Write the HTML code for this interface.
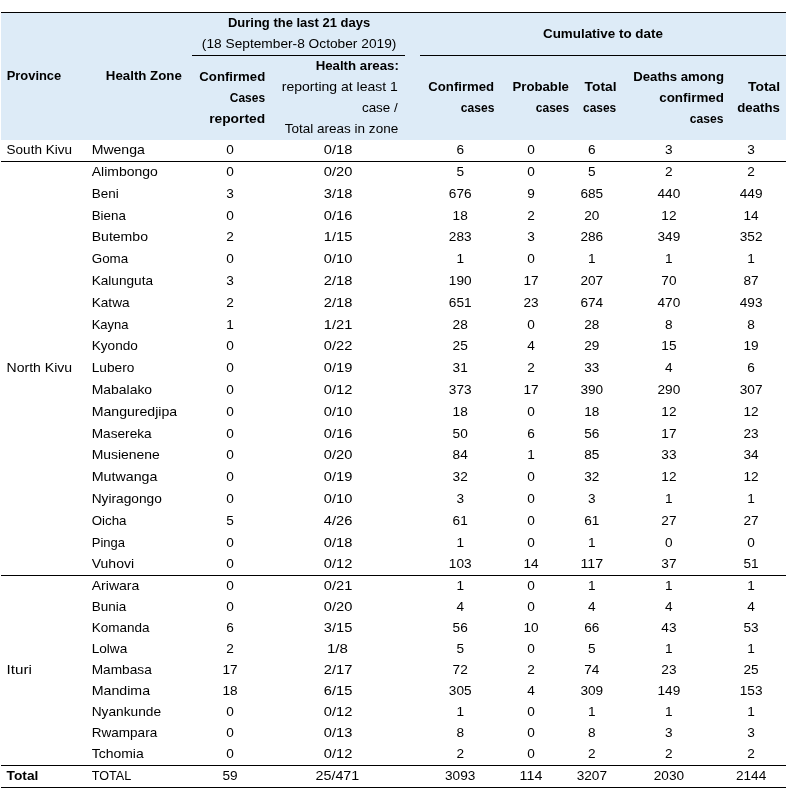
<!DOCTYPE html>
<html lang="en"><head><meta charset="utf-8"><title>Ebola cases by health zone</title>
<style>
html,body{margin:0;padding:0;background:#fff}
#t{position:relative;width:791px;height:793px;overflow:hidden;background:#fff;font-family:"Liberation Sans", sans-serif;font-size:13.0px;color:#000}
#txt{position:absolute;left:0;top:0;width:791px;height:793px;will-change:transform}
#t span{position:absolute;white-space:nowrap;line-height:20px;height:20px}
#t span.b{font-weight:bold}
#t span.l{transform-origin:0 50%}
#t span.r{transform-origin:100% 50%}
#t span.c{transform-origin:50% 50%}
.hd{position:absolute;left:1px;top:13px;width:785px;height:127px;background:#ddebf7}
.ln{position:absolute;height:1px;background:#000}
</style></head><body>
<div id="t" role="table" aria-label="Ebola virus disease cases by health zone">
<div class="hd"></div>
<div class="ln" style="left:1px;top:12px;width:785px"></div>
<div class="ln" style="left:192px;top:55px;width:213px"></div>
<div class="ln" style="left:420px;top:55px;width:366px"></div>
<div class="ln" style="left:1px;top:161px;width:785px"></div>
<div class="ln" style="left:1px;top:575px;width:785px"></div>
<div class="ln" style="left:1px;top:765px;width:785px"></div>
<div class="ln" style="left:1px;top:787px;width:785px"></div>
<div id="txt">
<div class="thead" role="row">
<span class="b l" style="left:6px;top:66px;transform:translateX(0.71px) scaleX(0.9928)">Province</span>
<span class="b c" style="left:143px;top:66px;transform:translateX(calc(-50% + 0.84px)) scaleX(1.0218)">Health Zone</span>
<span class="b c" style="left:299px;top:13px;transform:translateX(calc(-50% + 0.03px)) scaleX(0.9993)">During the last 21 days</span>
<span class="c" style="left:299px;top:34px;transform:translateX(calc(-50% + 0.10px)) scaleX(1.0557)">(18 September-8 October 2019)</span>
<span class="b r" style="right:525px;top:67px;transform:translateX(-0.79px) scaleX(1.0137)">Confirmed</span>
<span class="b r" style="right:526px;top:88px;transform:translateX(-0.26px) scaleX(0.9193)">Cases</span>
<span class="b r" style="right:525px;top:109px;transform:translateX(-0.61px) scaleX(1.0617)">reported</span>
<span class="b r" style="right:391px;top:56px;transform:translateX(-0.84px) scaleX(1.0187)">Health areas:</span>
<span class="r" style="right:392px;top:77px;transform:translateX(-0.79px) scaleX(1.0781)">reporting at least 1</span>
<span class="r" style="right:392px;top:98px;transform:translateX(-0.97px) scaleX(1.0306)">case /</span>
<span class="r" style="right:392px;top:119px;transform:translateX(-0.92px) scaleX(1.0404)">Total areas in zone</span>
<span class="b c" style="left:602px;top:24px;transform:translateX(calc(-50% + 0.92px)) scaleX(1.0310)">Cumulative to date</span>
<span class="b r" style="right:296px;top:77px;transform:translateX(-0.88px) scaleX(1.0128)">Confirmed</span>
<span class="b r" style="right:296px;top:98px;transform:translateX(-0.76px) scaleX(0.9283)">cases</span>
<span class="b r" style="right:221px;top:77px;transform:translateX(-0.76px) scaleX(1.0133)">Probable</span>
<span class="b r" style="right:221px;top:98px;transform:translateX(-0.97px) scaleX(0.9232)">cases</span>
<span class="b r" style="right:174px;top:77px;transform:translateX(-0.62px) scaleX(1.0588)">Total</span>
<span class="b r" style="right:174px;top:98px;transform:translateX(-0.93px) scaleX(0.9183)">cases</span>
<span class="b r" style="right:66px;top:67px;transform:translateX(-0.62px) scaleX(1.0128)">Deaths among</span>
<span class="b r" style="right:66px;top:88px;transform:translateX(-0.89px) scaleX(1.0298)">confirmed</span>
<span class="b r" style="right:67px;top:109px;transform:translateX(-0.61px) scaleX(0.9323)">cases</span>
<span class="b r" style="right:10px;top:77px;transform:translateX(-0.90px) scaleX(1.0684)">Total</span>
<span class="b r" style="right:11px;top:98px;transform:translateX(-0.04px) scaleX(1.0161)">deaths</span>
</div>
<div class="tbody" role="rowgroup">
<div class="row" role="row"><span class="l" style="left:6px;top:140px;transform:translateX(0.60px) scaleX(1.0391)">South Kivu</span><span class="l" style="left:91px;top:140px;transform:translateX(0.70px) scaleX(1.0806)">Mwenga</span><span class="c" style="left:230px;top:140px;transform:translateX(calc(-50% + 0.10px)) scaleX(1.0487)">0</span><span class="c" style="left:338px;top:140px;transform:translateX(calc(-50% + 0.10px)) scaleX(1.1274)">0/18</span><span class="c" style="left:460px;top:140px;transform:translateX(calc(-50% + 0.20px)) scaleX(1.0487)">6</span><span class="c" style="left:531px;top:140px;transform:translateX(calc(-50% + 0.00px)) scaleX(1.0487)">0</span><span class="c" style="left:591px;top:140px;transform:translateX(calc(-50% + 0.80px)) scaleX(1.0487)">6</span><span class="c" style="left:668px;top:140px;transform:translateX(calc(-50% + 0.90px)) scaleX(1.0487)">3</span><span class="c" style="left:751px;top:140px;transform:translateX(calc(-50% + 0.10px)) scaleX(1.0487)">3</span></div>
<div class="row" role="row"><span class="l" style="left:91px;top:162px;transform:translateX(0.70px) scaleX(1.0768)">Alimbongo</span><span class="c" style="left:230px;top:162px;transform:translateX(calc(-50% + 0.10px)) scaleX(1.0487)">0</span><span class="c" style="left:338px;top:162px;transform:translateX(calc(-50% + 0.10px)) scaleX(1.1274)">0/20</span><span class="c" style="left:460px;top:162px;transform:translateX(calc(-50% + 0.20px)) scaleX(1.0487)">5</span><span class="c" style="left:531px;top:162px;transform:translateX(calc(-50% + 0.00px)) scaleX(1.0487)">0</span><span class="c" style="left:591px;top:162px;transform:translateX(calc(-50% + 0.80px)) scaleX(1.0487)">5</span><span class="c" style="left:668px;top:162px;transform:translateX(calc(-50% + 0.90px)) scaleX(1.0487)">2</span><span class="c" style="left:751px;top:162px;transform:translateX(calc(-50% + 0.10px)) scaleX(1.0487)">2</span></div>
<div class="row" role="row"><span class="l" style="left:91px;top:184px;transform:translateX(0.70px) scaleX(1.0349)">Beni</span><span class="c" style="left:230px;top:184px;transform:translateX(calc(-50% + 0.10px)) scaleX(1.0487)">3</span><span class="c" style="left:338px;top:184px;transform:translateX(calc(-50% + 0.10px)) scaleX(1.1274)">3/18</span><span class="c" style="left:460px;top:184px;transform:translateX(calc(-50% + 0.20px)) scaleX(1.0487)">676</span><span class="c" style="left:531px;top:184px;transform:translateX(calc(-50% + 0.00px)) scaleX(1.0487)">9</span><span class="c" style="left:591px;top:184px;transform:translateX(calc(-50% + 0.80px)) scaleX(1.0487)">685</span><span class="c" style="left:668px;top:184px;transform:translateX(calc(-50% + 0.90px)) scaleX(1.0487)">440</span><span class="c" style="left:751px;top:184px;transform:translateX(calc(-50% + 0.10px)) scaleX(1.0487)">449</span></div>
<div class="row" role="row"><span class="l" style="left:91px;top:206px;transform:translateX(0.70px) scaleX(1.0258)">Biena</span><span class="c" style="left:230px;top:206px;transform:translateX(calc(-50% + 0.10px)) scaleX(1.0487)">0</span><span class="c" style="left:338px;top:206px;transform:translateX(calc(-50% + 0.10px)) scaleX(1.1274)">0/16</span><span class="c" style="left:460px;top:206px;transform:translateX(calc(-50% + 0.20px)) scaleX(1.0487)">18</span><span class="c" style="left:531px;top:206px;transform:translateX(calc(-50% + 0.00px)) scaleX(1.0487)">2</span><span class="c" style="left:591px;top:206px;transform:translateX(calc(-50% + 0.80px)) scaleX(1.0487)">20</span><span class="c" style="left:668px;top:206px;transform:translateX(calc(-50% + 0.90px)) scaleX(1.0487)">12</span><span class="c" style="left:751px;top:206px;transform:translateX(calc(-50% + 0.10px)) scaleX(1.0487)">14</span></div>
<div class="row" role="row"><span class="l" style="left:91px;top:227px;transform:translateX(0.70px) scaleX(1.0813)">Butembo</span><span class="c" style="left:230px;top:227px;transform:translateX(calc(-50% + 0.10px)) scaleX(1.0487)">2</span><span class="c" style="left:338px;top:227px;transform:translateX(calc(-50% + 0.10px)) scaleX(1.1274)">1/15</span><span class="c" style="left:460px;top:227px;transform:translateX(calc(-50% + 0.20px)) scaleX(1.0487)">283</span><span class="c" style="left:531px;top:227px;transform:translateX(calc(-50% + 0.00px)) scaleX(1.0487)">3</span><span class="c" style="left:591px;top:227px;transform:translateX(calc(-50% + 0.80px)) scaleX(1.0487)">286</span><span class="c" style="left:668px;top:227px;transform:translateX(calc(-50% + 0.90px)) scaleX(1.0487)">349</span><span class="c" style="left:751px;top:227px;transform:translateX(calc(-50% + 0.10px)) scaleX(1.0487)">352</span></div>
<div class="row" role="row"><span class="l" style="left:91px;top:249px;transform:translateX(0.70px) scaleX(1.0315)">Goma</span><span class="c" style="left:230px;top:249px;transform:translateX(calc(-50% + 0.10px)) scaleX(1.0487)">0</span><span class="c" style="left:338px;top:249px;transform:translateX(calc(-50% + 0.10px)) scaleX(1.1274)">0/10</span><span class="c" style="left:460px;top:249px;transform:translateX(calc(-50% + 0.20px)) scaleX(1.0487)">1</span><span class="c" style="left:531px;top:249px;transform:translateX(calc(-50% + 0.00px)) scaleX(1.0487)">0</span><span class="c" style="left:591px;top:249px;transform:translateX(calc(-50% + 0.80px)) scaleX(1.0487)">1</span><span class="c" style="left:668px;top:249px;transform:translateX(calc(-50% + 0.90px)) scaleX(1.0487)">1</span><span class="c" style="left:751px;top:249px;transform:translateX(calc(-50% + 0.10px)) scaleX(1.0487)">1</span></div>
<div class="row" role="row"><span class="l" style="left:91px;top:271px;transform:translateX(0.70px) scaleX(1.0468)">Kalunguta</span><span class="c" style="left:230px;top:271px;transform:translateX(calc(-50% + 0.10px)) scaleX(1.0487)">3</span><span class="c" style="left:338px;top:271px;transform:translateX(calc(-50% + 0.10px)) scaleX(1.1274)">2/18</span><span class="c" style="left:460px;top:271px;transform:translateX(calc(-50% + 0.20px)) scaleX(1.0487)">190</span><span class="c" style="left:531px;top:271px;transform:translateX(calc(-50% + 0.00px)) scaleX(1.0487)">17</span><span class="c" style="left:591px;top:271px;transform:translateX(calc(-50% + 0.80px)) scaleX(1.0487)">207</span><span class="c" style="left:668px;top:271px;transform:translateX(calc(-50% + 0.90px)) scaleX(1.0487)">70</span><span class="c" style="left:751px;top:271px;transform:translateX(calc(-50% + 0.10px)) scaleX(1.0487)">87</span></div>
<div class="row" role="row"><span class="l" style="left:91px;top:293px;transform:translateX(0.70px) scaleX(1.0485)">Katwa</span><span class="c" style="left:230px;top:293px;transform:translateX(calc(-50% + 0.10px)) scaleX(1.0487)">2</span><span class="c" style="left:338px;top:293px;transform:translateX(calc(-50% + 0.10px)) scaleX(1.1274)">2/18</span><span class="c" style="left:460px;top:293px;transform:translateX(calc(-50% + 0.20px)) scaleX(1.0487)">651</span><span class="c" style="left:531px;top:293px;transform:translateX(calc(-50% + 0.00px)) scaleX(1.0487)">23</span><span class="c" style="left:591px;top:293px;transform:translateX(calc(-50% + 0.80px)) scaleX(1.0487)">674</span><span class="c" style="left:668px;top:293px;transform:translateX(calc(-50% + 0.90px)) scaleX(1.0487)">470</span><span class="c" style="left:751px;top:293px;transform:translateX(calc(-50% + 0.10px)) scaleX(1.0487)">493</span></div>
<div class="row" role="row"><span class="l" style="left:91px;top:315px;transform:translateX(0.70px) scaleX(0.9985)">Kayna</span><span class="c" style="left:230px;top:315px;transform:translateX(calc(-50% + 0.10px)) scaleX(1.0487)">1</span><span class="c" style="left:338px;top:315px;transform:translateX(calc(-50% + 0.10px)) scaleX(1.1274)">1/21</span><span class="c" style="left:460px;top:315px;transform:translateX(calc(-50% + 0.20px)) scaleX(1.0487)">28</span><span class="c" style="left:531px;top:315px;transform:translateX(calc(-50% + 0.00px)) scaleX(1.0487)">0</span><span class="c" style="left:591px;top:315px;transform:translateX(calc(-50% + 0.80px)) scaleX(1.0487)">28</span><span class="c" style="left:668px;top:315px;transform:translateX(calc(-50% + 0.90px)) scaleX(1.0487)">8</span><span class="c" style="left:751px;top:315px;transform:translateX(calc(-50% + 0.10px)) scaleX(1.0487)">8</span></div>
<div class="row" role="row"><span class="l" style="left:91px;top:336px;transform:translateX(0.70px) scaleX(1.0463)">Kyondo</span><span class="c" style="left:230px;top:336px;transform:translateX(calc(-50% + 0.10px)) scaleX(1.0487)">0</span><span class="c" style="left:338px;top:336px;transform:translateX(calc(-50% + 0.10px)) scaleX(1.1274)">0/22</span><span class="c" style="left:460px;top:336px;transform:translateX(calc(-50% + 0.20px)) scaleX(1.0487)">25</span><span class="c" style="left:531px;top:336px;transform:translateX(calc(-50% + 0.00px)) scaleX(1.0487)">4</span><span class="c" style="left:591px;top:336px;transform:translateX(calc(-50% + 0.80px)) scaleX(1.0487)">29</span><span class="c" style="left:668px;top:336px;transform:translateX(calc(-50% + 0.90px)) scaleX(1.0487)">15</span><span class="c" style="left:751px;top:336px;transform:translateX(calc(-50% + 0.10px)) scaleX(1.0487)">19</span></div>
<div class="row" role="row"><span class="l" style="left:6px;top:358px;transform:translateX(0.60px) scaleX(1.0788)">North Kivu</span><span class="l" style="left:91px;top:358px;transform:translateX(0.70px) scaleX(1.0534)">Lubero</span><span class="c" style="left:230px;top:358px;transform:translateX(calc(-50% + 0.10px)) scaleX(1.0487)">0</span><span class="c" style="left:338px;top:358px;transform:translateX(calc(-50% + 0.10px)) scaleX(1.1274)">0/19</span><span class="c" style="left:460px;top:358px;transform:translateX(calc(-50% + 0.20px)) scaleX(1.0487)">31</span><span class="c" style="left:531px;top:358px;transform:translateX(calc(-50% + 0.00px)) scaleX(1.0487)">2</span><span class="c" style="left:591px;top:358px;transform:translateX(calc(-50% + 0.80px)) scaleX(1.0487)">33</span><span class="c" style="left:668px;top:358px;transform:translateX(calc(-50% + 0.90px)) scaleX(1.0487)">4</span><span class="c" style="left:751px;top:358px;transform:translateX(calc(-50% + 0.10px)) scaleX(1.0487)">6</span></div>
<div class="row" role="row"><span class="l" style="left:91px;top:380px;transform:translateX(0.70px) scaleX(1.0713)">Mabalako</span><span class="c" style="left:230px;top:380px;transform:translateX(calc(-50% + 0.10px)) scaleX(1.0487)">0</span><span class="c" style="left:338px;top:380px;transform:translateX(calc(-50% + 0.10px)) scaleX(1.1274)">0/12</span><span class="c" style="left:460px;top:380px;transform:translateX(calc(-50% + 0.20px)) scaleX(1.0487)">373</span><span class="c" style="left:531px;top:380px;transform:translateX(calc(-50% + 0.00px)) scaleX(1.0487)">17</span><span class="c" style="left:591px;top:380px;transform:translateX(calc(-50% + 0.80px)) scaleX(1.0487)">390</span><span class="c" style="left:668px;top:380px;transform:translateX(calc(-50% + 0.90px)) scaleX(1.0487)">290</span><span class="c" style="left:751px;top:380px;transform:translateX(calc(-50% + 0.10px)) scaleX(1.0487)">307</span></div>
<div class="row" role="row"><span class="l" style="left:91px;top:402px;transform:translateX(0.70px) scaleX(1.0846)">Manguredjipa</span><span class="c" style="left:230px;top:402px;transform:translateX(calc(-50% + 0.10px)) scaleX(1.0487)">0</span><span class="c" style="left:338px;top:402px;transform:translateX(calc(-50% + 0.10px)) scaleX(1.1274)">0/10</span><span class="c" style="left:460px;top:402px;transform:translateX(calc(-50% + 0.20px)) scaleX(1.0487)">18</span><span class="c" style="left:531px;top:402px;transform:translateX(calc(-50% + 0.00px)) scaleX(1.0487)">0</span><span class="c" style="left:591px;top:402px;transform:translateX(calc(-50% + 0.80px)) scaleX(1.0487)">18</span><span class="c" style="left:668px;top:402px;transform:translateX(calc(-50% + 0.90px)) scaleX(1.0487)">12</span><span class="c" style="left:751px;top:402px;transform:translateX(calc(-50% + 0.10px)) scaleX(1.0487)">12</span></div>
<div class="row" role="row"><span class="l" style="left:91px;top:424px;transform:translateX(0.70px) scaleX(1.0511)">Masereka</span><span class="c" style="left:230px;top:424px;transform:translateX(calc(-50% + 0.10px)) scaleX(1.0487)">0</span><span class="c" style="left:338px;top:424px;transform:translateX(calc(-50% + 0.10px)) scaleX(1.1274)">0/16</span><span class="c" style="left:460px;top:424px;transform:translateX(calc(-50% + 0.20px)) scaleX(1.0487)">50</span><span class="c" style="left:531px;top:424px;transform:translateX(calc(-50% + 0.00px)) scaleX(1.0487)">6</span><span class="c" style="left:591px;top:424px;transform:translateX(calc(-50% + 0.80px)) scaleX(1.0487)">56</span><span class="c" style="left:668px;top:424px;transform:translateX(calc(-50% + 0.90px)) scaleX(1.0487)">17</span><span class="c" style="left:751px;top:424px;transform:translateX(calc(-50% + 0.10px)) scaleX(1.0487)">23</span></div>
<div class="row" role="row"><span class="l" style="left:91px;top:445px;transform:translateX(0.70px) scaleX(1.0711)">Musienene</span><span class="c" style="left:230px;top:445px;transform:translateX(calc(-50% + 0.10px)) scaleX(1.0487)">0</span><span class="c" style="left:338px;top:445px;transform:translateX(calc(-50% + 0.10px)) scaleX(1.1274)">0/20</span><span class="c" style="left:460px;top:445px;transform:translateX(calc(-50% + 0.20px)) scaleX(1.0487)">84</span><span class="c" style="left:531px;top:445px;transform:translateX(calc(-50% + 0.00px)) scaleX(1.0487)">1</span><span class="c" style="left:591px;top:445px;transform:translateX(calc(-50% + 0.80px)) scaleX(1.0487)">85</span><span class="c" style="left:668px;top:445px;transform:translateX(calc(-50% + 0.90px)) scaleX(1.0487)">33</span><span class="c" style="left:751px;top:445px;transform:translateX(calc(-50% + 0.10px)) scaleX(1.0487)">34</span></div>
<div class="row" role="row"><span class="l" style="left:91px;top:467px;transform:translateX(0.70px) scaleX(1.0957)">Mutwanga</span><span class="c" style="left:230px;top:467px;transform:translateX(calc(-50% + 0.10px)) scaleX(1.0487)">0</span><span class="c" style="left:338px;top:467px;transform:translateX(calc(-50% + 0.10px)) scaleX(1.1274)">0/19</span><span class="c" style="left:460px;top:467px;transform:translateX(calc(-50% + 0.20px)) scaleX(1.0487)">32</span><span class="c" style="left:531px;top:467px;transform:translateX(calc(-50% + 0.00px)) scaleX(1.0487)">0</span><span class="c" style="left:591px;top:467px;transform:translateX(calc(-50% + 0.80px)) scaleX(1.0487)">32</span><span class="c" style="left:668px;top:467px;transform:translateX(calc(-50% + 0.90px)) scaleX(1.0487)">12</span><span class="c" style="left:751px;top:467px;transform:translateX(calc(-50% + 0.10px)) scaleX(1.0487)">12</span></div>
<div class="row" role="row"><span class="l" style="left:91px;top:489px;transform:translateX(0.70px) scaleX(1.0544)">Nyiragongo</span><span class="c" style="left:230px;top:489px;transform:translateX(calc(-50% + 0.10px)) scaleX(1.0487)">0</span><span class="c" style="left:338px;top:489px;transform:translateX(calc(-50% + 0.10px)) scaleX(1.1274)">0/10</span><span class="c" style="left:460px;top:489px;transform:translateX(calc(-50% + 0.20px)) scaleX(1.0487)">3</span><span class="c" style="left:531px;top:489px;transform:translateX(calc(-50% + 0.00px)) scaleX(1.0487)">0</span><span class="c" style="left:591px;top:489px;transform:translateX(calc(-50% + 0.80px)) scaleX(1.0487)">3</span><span class="c" style="left:668px;top:489px;transform:translateX(calc(-50% + 0.90px)) scaleX(1.0487)">1</span><span class="c" style="left:751px;top:489px;transform:translateX(calc(-50% + 0.10px)) scaleX(1.0487)">1</span></div>
<div class="row" role="row"><span class="l" style="left:91px;top:511px;transform:translateX(0.70px) scaleX(1.0235)">Oicha</span><span class="c" style="left:230px;top:511px;transform:translateX(calc(-50% + 0.10px)) scaleX(1.0487)">5</span><span class="c" style="left:338px;top:511px;transform:translateX(calc(-50% + 0.10px)) scaleX(1.1274)">4/26</span><span class="c" style="left:460px;top:511px;transform:translateX(calc(-50% + 0.20px)) scaleX(1.0487)">61</span><span class="c" style="left:531px;top:511px;transform:translateX(calc(-50% + 0.00px)) scaleX(1.0487)">0</span><span class="c" style="left:591px;top:511px;transform:translateX(calc(-50% + 0.80px)) scaleX(1.0487)">61</span><span class="c" style="left:668px;top:511px;transform:translateX(calc(-50% + 0.90px)) scaleX(1.0487)">27</span><span class="c" style="left:751px;top:511px;transform:translateX(calc(-50% + 0.10px)) scaleX(1.0487)">27</span></div>
<div class="row" role="row"><span class="l" style="left:91px;top:533px;transform:translateX(0.70px) scaleX(1.0014)">Pinga</span><span class="c" style="left:230px;top:533px;transform:translateX(calc(-50% + 0.10px)) scaleX(1.0487)">0</span><span class="c" style="left:338px;top:533px;transform:translateX(calc(-50% + 0.10px)) scaleX(1.1274)">0/18</span><span class="c" style="left:460px;top:533px;transform:translateX(calc(-50% + 0.20px)) scaleX(1.0487)">1</span><span class="c" style="left:531px;top:533px;transform:translateX(calc(-50% + 0.00px)) scaleX(1.0487)">0</span><span class="c" style="left:591px;top:533px;transform:translateX(calc(-50% + 0.80px)) scaleX(1.0487)">1</span><span class="c" style="left:668px;top:533px;transform:translateX(calc(-50% + 0.90px)) scaleX(1.0487)">0</span><span class="c" style="left:751px;top:533px;transform:translateX(calc(-50% + 0.10px)) scaleX(1.0487)">0</span></div>
<div class="row" role="row"><span class="l" style="left:91px;top:554px;transform:translateX(0.70px) scaleX(1.0790)">Vuhovi</span><span class="c" style="left:230px;top:554px;transform:translateX(calc(-50% + 0.10px)) scaleX(1.0487)">0</span><span class="c" style="left:338px;top:554px;transform:translateX(calc(-50% + 0.10px)) scaleX(1.1274)">0/12</span><span class="c" style="left:460px;top:554px;transform:translateX(calc(-50% + 0.20px)) scaleX(1.0487)">103</span><span class="c" style="left:531px;top:554px;transform:translateX(calc(-50% + 0.00px)) scaleX(1.0487)">14</span><span class="c" style="left:591px;top:554px;transform:translateX(calc(-50% + 0.80px)) scaleX(1.0976)">117</span><span class="c" style="left:668px;top:554px;transform:translateX(calc(-50% + 0.90px)) scaleX(1.0487)">37</span><span class="c" style="left:751px;top:554px;transform:translateX(calc(-50% + 0.10px)) scaleX(1.0487)">51</span></div>
<div class="row" role="row"><span class="l" style="left:91px;top:576px;transform:translateX(0.70px) scaleX(1.0811)">Ariwara</span><span class="c" style="left:230px;top:576px;transform:translateX(calc(-50% + 0.10px)) scaleX(1.0487)">0</span><span class="c" style="left:338px;top:576px;transform:translateX(calc(-50% + 0.10px)) scaleX(1.1274)">0/21</span><span class="c" style="left:460px;top:576px;transform:translateX(calc(-50% + 0.20px)) scaleX(1.0487)">1</span><span class="c" style="left:531px;top:576px;transform:translateX(calc(-50% + 0.00px)) scaleX(1.0487)">0</span><span class="c" style="left:591px;top:576px;transform:translateX(calc(-50% + 0.80px)) scaleX(1.0487)">1</span><span class="c" style="left:668px;top:576px;transform:translateX(calc(-50% + 0.90px)) scaleX(1.0487)">1</span><span class="c" style="left:751px;top:576px;transform:translateX(calc(-50% + 0.10px)) scaleX(1.0487)">1</span></div>
<div class="row" role="row"><span class="l" style="left:91px;top:597px;transform:translateX(0.70px) scaleX(1.0383)">Bunia</span><span class="c" style="left:230px;top:597px;transform:translateX(calc(-50% + 0.10px)) scaleX(1.0487)">0</span><span class="c" style="left:338px;top:597px;transform:translateX(calc(-50% + 0.10px)) scaleX(1.1274)">0/20</span><span class="c" style="left:460px;top:597px;transform:translateX(calc(-50% + 0.20px)) scaleX(1.0487)">4</span><span class="c" style="left:531px;top:597px;transform:translateX(calc(-50% + 0.00px)) scaleX(1.0487)">0</span><span class="c" style="left:591px;top:597px;transform:translateX(calc(-50% + 0.80px)) scaleX(1.0487)">4</span><span class="c" style="left:668px;top:597px;transform:translateX(calc(-50% + 0.90px)) scaleX(1.0487)">4</span><span class="c" style="left:751px;top:597px;transform:translateX(calc(-50% + 0.10px)) scaleX(1.0487)">4</span></div>
<div class="row" role="row"><span class="l" style="left:91px;top:618px;transform:translateX(0.70px) scaleX(1.0382)">Komanda</span><span class="c" style="left:230px;top:618px;transform:translateX(calc(-50% + 0.10px)) scaleX(1.0487)">6</span><span class="c" style="left:338px;top:618px;transform:translateX(calc(-50% + 0.10px)) scaleX(1.1274)">3/15</span><span class="c" style="left:460px;top:618px;transform:translateX(calc(-50% + 0.20px)) scaleX(1.0487)">56</span><span class="c" style="left:531px;top:618px;transform:translateX(calc(-50% + 0.00px)) scaleX(1.0487)">10</span><span class="c" style="left:591px;top:618px;transform:translateX(calc(-50% + 0.80px)) scaleX(1.0487)">66</span><span class="c" style="left:668px;top:618px;transform:translateX(calc(-50% + 0.90px)) scaleX(1.0487)">43</span><span class="c" style="left:751px;top:618px;transform:translateX(calc(-50% + 0.10px)) scaleX(1.0487)">53</span></div>
<div class="row" role="row"><span class="l" style="left:91px;top:639px;transform:translateX(0.70px) scaleX(1.0464)">Lolwa</span><span class="c" style="left:230px;top:639px;transform:translateX(calc(-50% + 0.10px)) scaleX(1.0487)">2</span><span class="c" style="left:337px;top:639px;transform:translateX(calc(-50% + 0.40px)) scaleX(1.1589)">1/8</span><span class="c" style="left:460px;top:639px;transform:translateX(calc(-50% + 0.20px)) scaleX(1.0487)">5</span><span class="c" style="left:531px;top:639px;transform:translateX(calc(-50% + 0.00px)) scaleX(1.0487)">0</span><span class="c" style="left:591px;top:639px;transform:translateX(calc(-50% + 0.80px)) scaleX(1.0487)">5</span><span class="c" style="left:668px;top:639px;transform:translateX(calc(-50% + 0.90px)) scaleX(1.0487)">1</span><span class="c" style="left:751px;top:639px;transform:translateX(calc(-50% + 0.10px)) scaleX(1.0487)">1</span></div>
<div class="row" role="row"><span class="l" style="left:6px;top:660px;transform:translateX(0.60px) scaleX(1.1693)">Ituri</span><span class="l" style="left:91px;top:660px;transform:translateX(0.70px) scaleX(1.0524)">Mambasa</span><span class="c" style="left:230px;top:660px;transform:translateX(calc(-50% + 0.10px)) scaleX(1.0487)">17</span><span class="c" style="left:338px;top:660px;transform:translateX(calc(-50% + 0.10px)) scaleX(1.1274)">2/17</span><span class="c" style="left:460px;top:660px;transform:translateX(calc(-50% + 0.20px)) scaleX(1.0487)">72</span><span class="c" style="left:531px;top:660px;transform:translateX(calc(-50% + 0.00px)) scaleX(1.0487)">2</span><span class="c" style="left:591px;top:660px;transform:translateX(calc(-50% + 0.80px)) scaleX(1.0487)">74</span><span class="c" style="left:668px;top:660px;transform:translateX(calc(-50% + 0.90px)) scaleX(1.0487)">23</span><span class="c" style="left:751px;top:660px;transform:translateX(calc(-50% + 0.10px)) scaleX(1.0487)">25</span></div>
<div class="row" role="row"><span class="l" style="left:91px;top:681px;transform:translateX(0.70px) scaleX(1.0911)">Mandima</span><span class="c" style="left:230px;top:681px;transform:translateX(calc(-50% + 0.10px)) scaleX(1.0487)">18</span><span class="c" style="left:338px;top:681px;transform:translateX(calc(-50% + 0.10px)) scaleX(1.1274)">6/15</span><span class="c" style="left:460px;top:681px;transform:translateX(calc(-50% + 0.20px)) scaleX(1.0487)">305</span><span class="c" style="left:531px;top:681px;transform:translateX(calc(-50% + 0.00px)) scaleX(1.0487)">4</span><span class="c" style="left:591px;top:681px;transform:translateX(calc(-50% + 0.80px)) scaleX(1.0487)">309</span><span class="c" style="left:668px;top:681px;transform:translateX(calc(-50% + 0.90px)) scaleX(1.0487)">149</span><span class="c" style="left:751px;top:681px;transform:translateX(calc(-50% + 0.10px)) scaleX(1.0487)">153</span></div>
<div class="row" role="row"><span class="l" style="left:91px;top:702px;transform:translateX(0.70px) scaleX(1.0554)">Nyankunde</span><span class="c" style="left:230px;top:702px;transform:translateX(calc(-50% + 0.10px)) scaleX(1.0487)">0</span><span class="c" style="left:338px;top:702px;transform:translateX(calc(-50% + 0.10px)) scaleX(1.1274)">0/12</span><span class="c" style="left:460px;top:702px;transform:translateX(calc(-50% + 0.20px)) scaleX(1.0487)">1</span><span class="c" style="left:531px;top:702px;transform:translateX(calc(-50% + 0.00px)) scaleX(1.0487)">0</span><span class="c" style="left:591px;top:702px;transform:translateX(calc(-50% + 0.80px)) scaleX(1.0487)">1</span><span class="c" style="left:668px;top:702px;transform:translateX(calc(-50% + 0.90px)) scaleX(1.0487)">1</span><span class="c" style="left:751px;top:702px;transform:translateX(calc(-50% + 0.10px)) scaleX(1.0487)">1</span></div>
<div class="row" role="row"><span class="l" style="left:91px;top:723px;transform:translateX(0.70px) scaleX(1.0416)">Rwampara</span><span class="c" style="left:230px;top:723px;transform:translateX(calc(-50% + 0.10px)) scaleX(1.0487)">0</span><span class="c" style="left:338px;top:723px;transform:translateX(calc(-50% + 0.10px)) scaleX(1.1274)">0/13</span><span class="c" style="left:460px;top:723px;transform:translateX(calc(-50% + 0.20px)) scaleX(1.0487)">8</span><span class="c" style="left:531px;top:723px;transform:translateX(calc(-50% + 0.00px)) scaleX(1.0487)">0</span><span class="c" style="left:591px;top:723px;transform:translateX(calc(-50% + 0.80px)) scaleX(1.0487)">8</span><span class="c" style="left:668px;top:723px;transform:translateX(calc(-50% + 0.90px)) scaleX(1.0487)">3</span><span class="c" style="left:751px;top:723px;transform:translateX(calc(-50% + 0.10px)) scaleX(1.0487)">3</span></div>
<div class="row" role="row"><span class="l" style="left:91px;top:744px;transform:translateX(0.70px) scaleX(1.0746)">Tchomia</span><span class="c" style="left:230px;top:744px;transform:translateX(calc(-50% + 0.10px)) scaleX(1.0487)">0</span><span class="c" style="left:338px;top:744px;transform:translateX(calc(-50% + 0.10px)) scaleX(1.1274)">0/12</span><span class="c" style="left:460px;top:744px;transform:translateX(calc(-50% + 0.20px)) scaleX(1.0487)">2</span><span class="c" style="left:531px;top:744px;transform:translateX(calc(-50% + 0.00px)) scaleX(1.0487)">0</span><span class="c" style="left:591px;top:744px;transform:translateX(calc(-50% + 0.80px)) scaleX(1.0487)">2</span><span class="c" style="left:668px;top:744px;transform:translateX(calc(-50% + 0.90px)) scaleX(1.0487)">2</span><span class="c" style="left:751px;top:744px;transform:translateX(calc(-50% + 0.10px)) scaleX(1.0487)">2</span></div>
<div class="row" role="row"><span class="b l" style="left:6px;top:766px;transform:translateX(0.60px) scaleX(1.0555)">Total</span><span class="l" style="left:91px;top:766px;transform:translateX(0.70px) scaleX(0.9708)">TOTAL</span><span class="c" style="left:230px;top:766px;transform:translateX(calc(-50% + 0.10px)) scaleX(1.0487)">59</span><span class="c" style="left:337px;top:766px;transform:translateX(calc(-50% + 0.40px)) scaleX(1.0988)">25/471</span><span class="c" style="left:460px;top:766px;transform:translateX(calc(-50% + 0.20px)) scaleX(1.0487)">3093</span><span class="c" style="left:531px;top:766px;transform:translateX(calc(-50% + 0.00px)) scaleX(1.0976)">114</span><span class="c" style="left:591px;top:766px;transform:translateX(calc(-50% + 0.80px)) scaleX(1.0487)">3207</span><span class="c" style="left:668px;top:766px;transform:translateX(calc(-50% + 0.90px)) scaleX(1.0487)">2030</span><span class="c" style="left:751px;top:766px;transform:translateX(calc(-50% + 0.10px)) scaleX(1.0487)">2144</span></div>
</div>
</div>
</div>
</body></html>
